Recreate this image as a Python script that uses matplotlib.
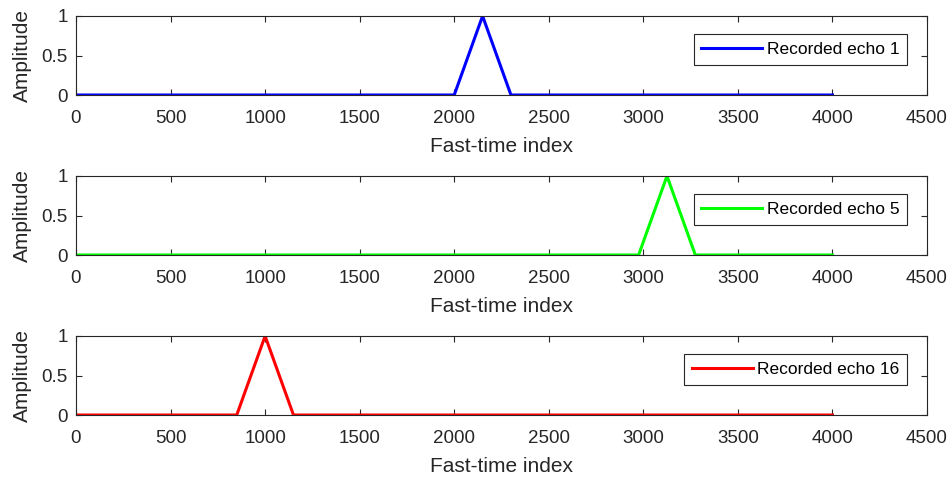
import numpy as np
import matplotlib.pyplot as plt

plt.rcParams['font.family'] = ['Liberation Sans', 'DejaVu Sans']

# ---------------- Data ----------------
echo_labels = ["Recorded echo 1", "Recorded echo 5", "Recorded echo 16"]
echo_colors = ["#0000ff", "#00ff00", "#ff0000"]
# triangle pulse: x positions and amplitudes for each echo
echo_x = [
    [0, 2000, 2150, 2300, 4000],
    [0, 2975, 3125, 3275, 4000],
    [0, 850, 1000, 1150, 4000],
]
echo_y = [
    [0, 0, 1, 0, 0],
    [0, 0, 1, 0, 0],
    [0, 0, 1, 0, 0],
]
x_ticks = [0, 500, 1000, 1500, 2000, 2500, 3000, 3500, 4000, 4500]
y_ticks = [0, 0.5, 1]

# ---------------- Plot ----------------
fig = plt.figure(figsize=(9.53, 4.79), dpi=100)
W, H = 953, 479
tops = [16, 176, 336]
ax_h = 79
left, right = 76, 927
txt = '#262626'

for i in range(3):
    ax = fig.add_axes([left / W, 1 - (tops[i] + ax_h) / H,
                       (right - left) / W, ax_h / H])
    ax.plot(echo_x[i], echo_y[i], color=echo_colors[i], lw=2.2,
            label=echo_labels[i])
    ax.set_xlim(0, 4500)
    ax.set_ylim(0, 1)
    ax.set_xticks(x_ticks)
    ax.set_yticks(y_ticks)
    ax.set_yticklabels(["0", "0.5", "1"])
    ax.tick_params(direction='in', length=4, width=0.8, colors=txt,
                   labelsize=13.5, top=True, right=True)
    ax.tick_params(axis='x', pad=11)
    ax.tick_params(axis='y', pad=6)
    for s in ax.spines.values():
        s.set_color(txt)
        s.set_linewidth(0.8)
    ax.set_xlabel("Fast-time index", fontsize=15, color=txt, labelpad=7)
    ax.set_ylabel("Amplitude", fontsize=15, color=txt, labelpad=7)
    leg = ax.legend(loc='center right', bbox_to_anchor=(0.9765, 0.575),
                    fontsize=12.5, fancybox=False, framealpha=1,
                    edgecolor=txt, handlelength=3.5,
                    handletextpad=0.25, borderpad=0.45, borderaxespad=0)
    leg.get_frame().set_linewidth(0.8)

fig.savefig("out.png", dpi=100)
